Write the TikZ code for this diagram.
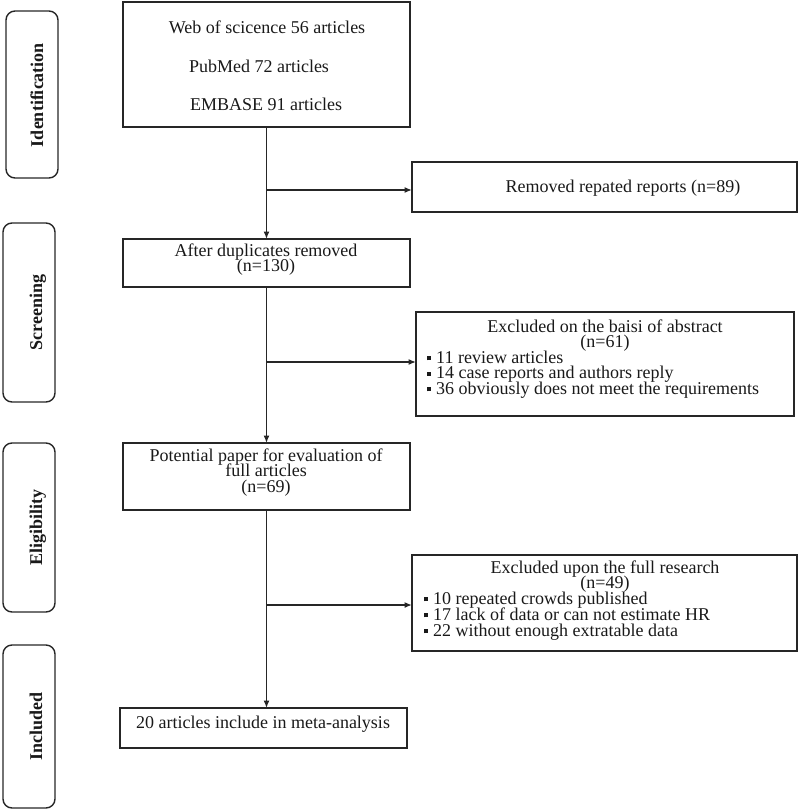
\documentclass[tikz,border=0pt]{standalone}
\usepackage{fontspec}
\setmainfont{Liberation Serif}
\usetikzlibrary{arrows.meta}
\newcommand\sqbul{\rule[2.7pt]{4pt}{4pt}\hspace{5pt}}
\begin{document}
\begin{tikzpicture}[x=1pt,y=-1pt,
  box/.style={draw=black!85, line width=1.5pt, inner sep=0pt, outer sep=0pt, rectangle},
  side/.style={draw=black!85, line width=1.4pt, inner sep=0pt, outer sep=0pt, rectangle, rounded corners=9pt},
  txt/.style={anchor=base, inner sep=0pt, font=\fontsize{18}{15.5}\selectfont, text=black!90},
  txtw/.style={anchor=base west, inner sep=0pt, font=\fontsize{18}{15.5}\selectfont, text=black!90},
  lab/.style={anchor=base, inner sep=0pt, rotate=90, font=\fontsize{18}{18}\selectfont\bfseries, text=black!90},
  arr/.style={draw=black!85, line width=1.4pt, -{Latex[length=7.5pt,width=6pt]}},
  ln/.style={draw=black!85, line width=1.4pt}]
\useasboundingbox (0,0) rectangle (800,811);

% side stage boxes
\node[side, minimum width=52pt, minimum height=167pt] (sid) at (32,94.5) {};
\node[side, minimum width=52pt, minimum height=179pt] (ssc) at (29,312.5) {};
\node[side, minimum width=52pt, minimum height=169pt] (sel) at (29,527.5) {};
\node[side, minimum width=52pt, minimum height=163pt] (sin) at (29,726.5) {};
\node[lab] (lid) at (43,95) {Identification};
\node[lab] (lsc) at (42,312.5) {Screening};
\node[lab] (lel) at (42,527.5) {Eligibility};
\node[lab] (lin) at (42,726.5) {Included};

% main boxes
\node[box, minimum width=287pt, minimum height=125pt] (top) at (266.5,64.5) {};
\node[txt] (t1) at (267,33) {Web of scicence 56 articles};
\node[txt] (t2) at (259,72) {PubMed 72 articles};
\node[txt] (t3) at (266,110) {EMBASE 91 articles};

\node[box, minimum width=385pt, minimum height=50pt] (rem) at (604.5,187) {};
\node[txt] (r1) at (623,192) {Removed repated reports (n=89)};

\node[box, minimum width=287pt, minimum height=48pt] (aft) at (266.5,263) {};
\node[txt] (a1) at (266,256) {After duplicates removed};
\node[txt] (a2) at (266,271) {(n=130)};

\node[box, minimum width=378pt, minimum height=104pt] (exa) at (605,364) {};
\node[txt] (e1) at (605,332) {Excluded on the baisi of abstract};
\node[txt] (e2) at (605,347.5) {(n=61)};
\node[txtw] (e3) at (427,363) {\sqbul 11 review articles};
\node[txtw] (e4) at (427,378.5) {\sqbul 14 case reports and authors reply};
\node[txtw] (e5) at (427,394) {\sqbul 36 obviously does not meet the requirements};

\node[box, minimum width=287pt, minimum height=67pt] (pot) at (266.5,476.5) {};
\node[txt] (p1) at (266,461) {Potential paper for evaluation of};
\node[txt] (p2) at (266,476.5) {full articles};
\node[txt] (p3) at (266,492) {(n=69)};

\node[box, minimum width=385pt, minimum height=96pt] (exf) at (604.5,603) {};
\node[txt] (f1) at (605,573) {Excluded upon the full research};
\node[txt] (f2) at (605,588) {(n=49)};
\node[txtw] (f3) at (424,604) {\sqbul 10 repeated crowds published};
\node[txtw] (f4) at (424,620) {\sqbul 17 lack of data or can not estimate HR};
\node[txtw] (f5) at (424,636) {\sqbul 22 without enough extratable data};

\node[box, minimum width=287pt, minimum height=40pt] (fin) at (263.5,728) {};
\node[txt] (g1) at (263,728) {20 articles include in meta-analysis};

% connectors
\coordinate (b1) at (266.5,190);
\coordinate (b2) at (266.5,362);
\coordinate (b3) at (266.5,605);
\draw[arr] (top.south) -- (aft.north);
\draw[arr] (b1) -- (b1 -| rem.west);
\draw[arr] (aft.south) -- (pot.north);
\draw[arr] (b2) -- (b2 -| exa.west);
\draw[arr] (pot.south) -- (pot.south |- fin.north);
\draw[arr] (b3) -- (b3 -| exf.west);
\end{tikzpicture}
\end{document}
